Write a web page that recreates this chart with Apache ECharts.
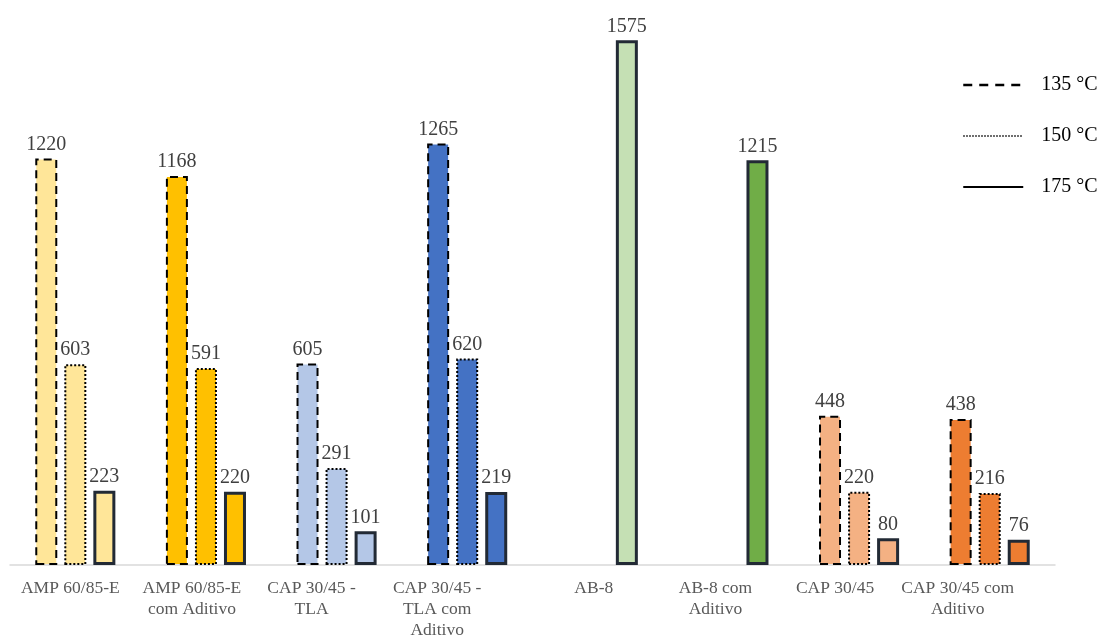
<!DOCTYPE html>
<html>
<head>
<meta charset="utf-8">
<title>Viscosidade</title>
<script src="https://cdn.jsdelivr.net/npm/echarts@6/dist/echarts.min.js"></script>
<style>
  html, body { margin: 0; padding: 0; background: #fff; }
  #chart { width: 1104px; height: 637px; }
</style>
</head>
<body>
<div id="chart"></div>
<script>
// Binder samples (axis labels wrapped the way they are printed)
const categories = [
  'AMP 60/85-E',
  'AMP 60/85-E\ncom Aditivo',
  'CAP 30/45 -\nTLA',
  'CAP 30/45 -\nTLA com\nAditivo',
  'AB-8',
  'AB-8 com\nAditivo',
  'CAP 30/45',
  'CAP 30/45 com\nAditivo'
];

// Test temperatures
const temperatures = ['135 °C', '150 °C', '175 °C'];

// Values per temperature (null = not measured)
const values135 = [1220, 1168, 605, 1265, null, null, 448, 438];
const values150 = [603, 591, 291, 620, null, null, 220, 216];
const values175 = [223, 220, 101, 219, 1575, 1215, 80, 76];

// Fill colour of each sample
const sampleColors = ['#FFE699', '#FFC000', '#B4C7E7', '#4472C4', '#C5E0B4', '#70AD47', '#F4B183', '#ED7D31'];

// Horizontal nudge of each axis label (px, negative = left)
const labelShift = [-5, -14, -25, -30, -4, -13, -24, -32];

const serif = '"Liberation Serif", "DejaVu Serif", serif';

// Border style of each temperature
const borderStyles = [
  { borderType: [8, 5], borderWidth: 2, borderColor: '#000000' },
  { borderType: [2, 2], borderWidth: 2, borderColor: '#000000' },
  { borderType: 'solid', borderWidth: 3, borderColor: '#222A35' }
];
const legendLines = [
  { type: [9, 7], width: 2.5, color: '#000000' },
  { type: [1.5, 1.5], width: 1.5, color: '#000000' },
  { type: 'solid', width: 2, color: '#000000' }
];

const seriesValues = [values135, values150, values175];

const rich = {};
labelShift.forEach((d, i) => {
  rich['s' + i] = {
    fontFamily: serif, fontSize: 17.5, color: '#595959', lineHeight: 21,
    padding: d < 0 ? [0, -2 * d, 0, 0] : [0, 0, 0, 2 * d]
  };
});

// Legend-only line series (come first so the legend uses their line icons)
const legendSeries = temperatures.map((t, k) => ({
  name: t,
  type: 'line',
  data: [],
  symbol: 'none',
  silent: true,
  itemStyle: { color: 'rgba(0,0,0,0)' },
  lineStyle: legendLines[k]
}));

const barSeries = temperatures.map((t, k) => ({
  name: t,
  type: 'bar',
  barWidth: 22,
  barGap: '32%',
  itemStyle: borderStyles[k],
  label: {
    show: true,
    position: 'top',
    distance: 4,
    fontFamily: serif,
    fontSize: 20,
    color: '#404040'
  },
  data: seriesValues[k].map((v, i) => ({
    value: v,
    itemStyle: { color: sampleColors[i] }
  }))
}));

const chart = echarts.init(document.getElementById('chart'), null, { renderer: 'canvas' });
chart.setOption({
  animation: false,
  backgroundColor: '#ffffff',
  grid: { left: 10, right: 49, top: 32, bottom: 72, containLabel: false, outerBoundsMode: 'none' },
  legend: {
    orient: 'vertical',
    left: 957,
    top: 70,
    itemWidth: 60,
    itemHeight: 20,
    itemGap: 31,
    data: temperatures.map((t, k) => ({
      name: t,
      lineStyle: legendLines[k],
      itemStyle: { color: 'rgba(0,0,0,0)', borderWidth: 0, opacity: 0 }
    })),
    textStyle: { fontFamily: serif, fontSize: 20, color: '#000000', padding: [0, 0, 0, 13] }
  },
  xAxis: {
    type: 'category',
    data: categories,
    axisLine: { show: true, lineStyle: { color: '#D9D9D9', width: 1.5 } },
    axisTick: { show: false },
    axisLabel: {
      interval: 0,
      margin: 13,
      fontFamily: serif,
      fontSize: 17.5,
      color: '#595959',
      lineHeight: 21,
      formatter: (value, index) => value.split('\n').map(l => '{s' + index + '|' + l + '}').join('\n'),
      rich: rich
    }
  },
  yAxis: {
    type: 'value',
    min: 0,
    max: 1600,
    show: false,
    splitLine: { show: false }
  },
  series: legendSeries.concat(barSeries)
});
</script>
</body>
</html>
